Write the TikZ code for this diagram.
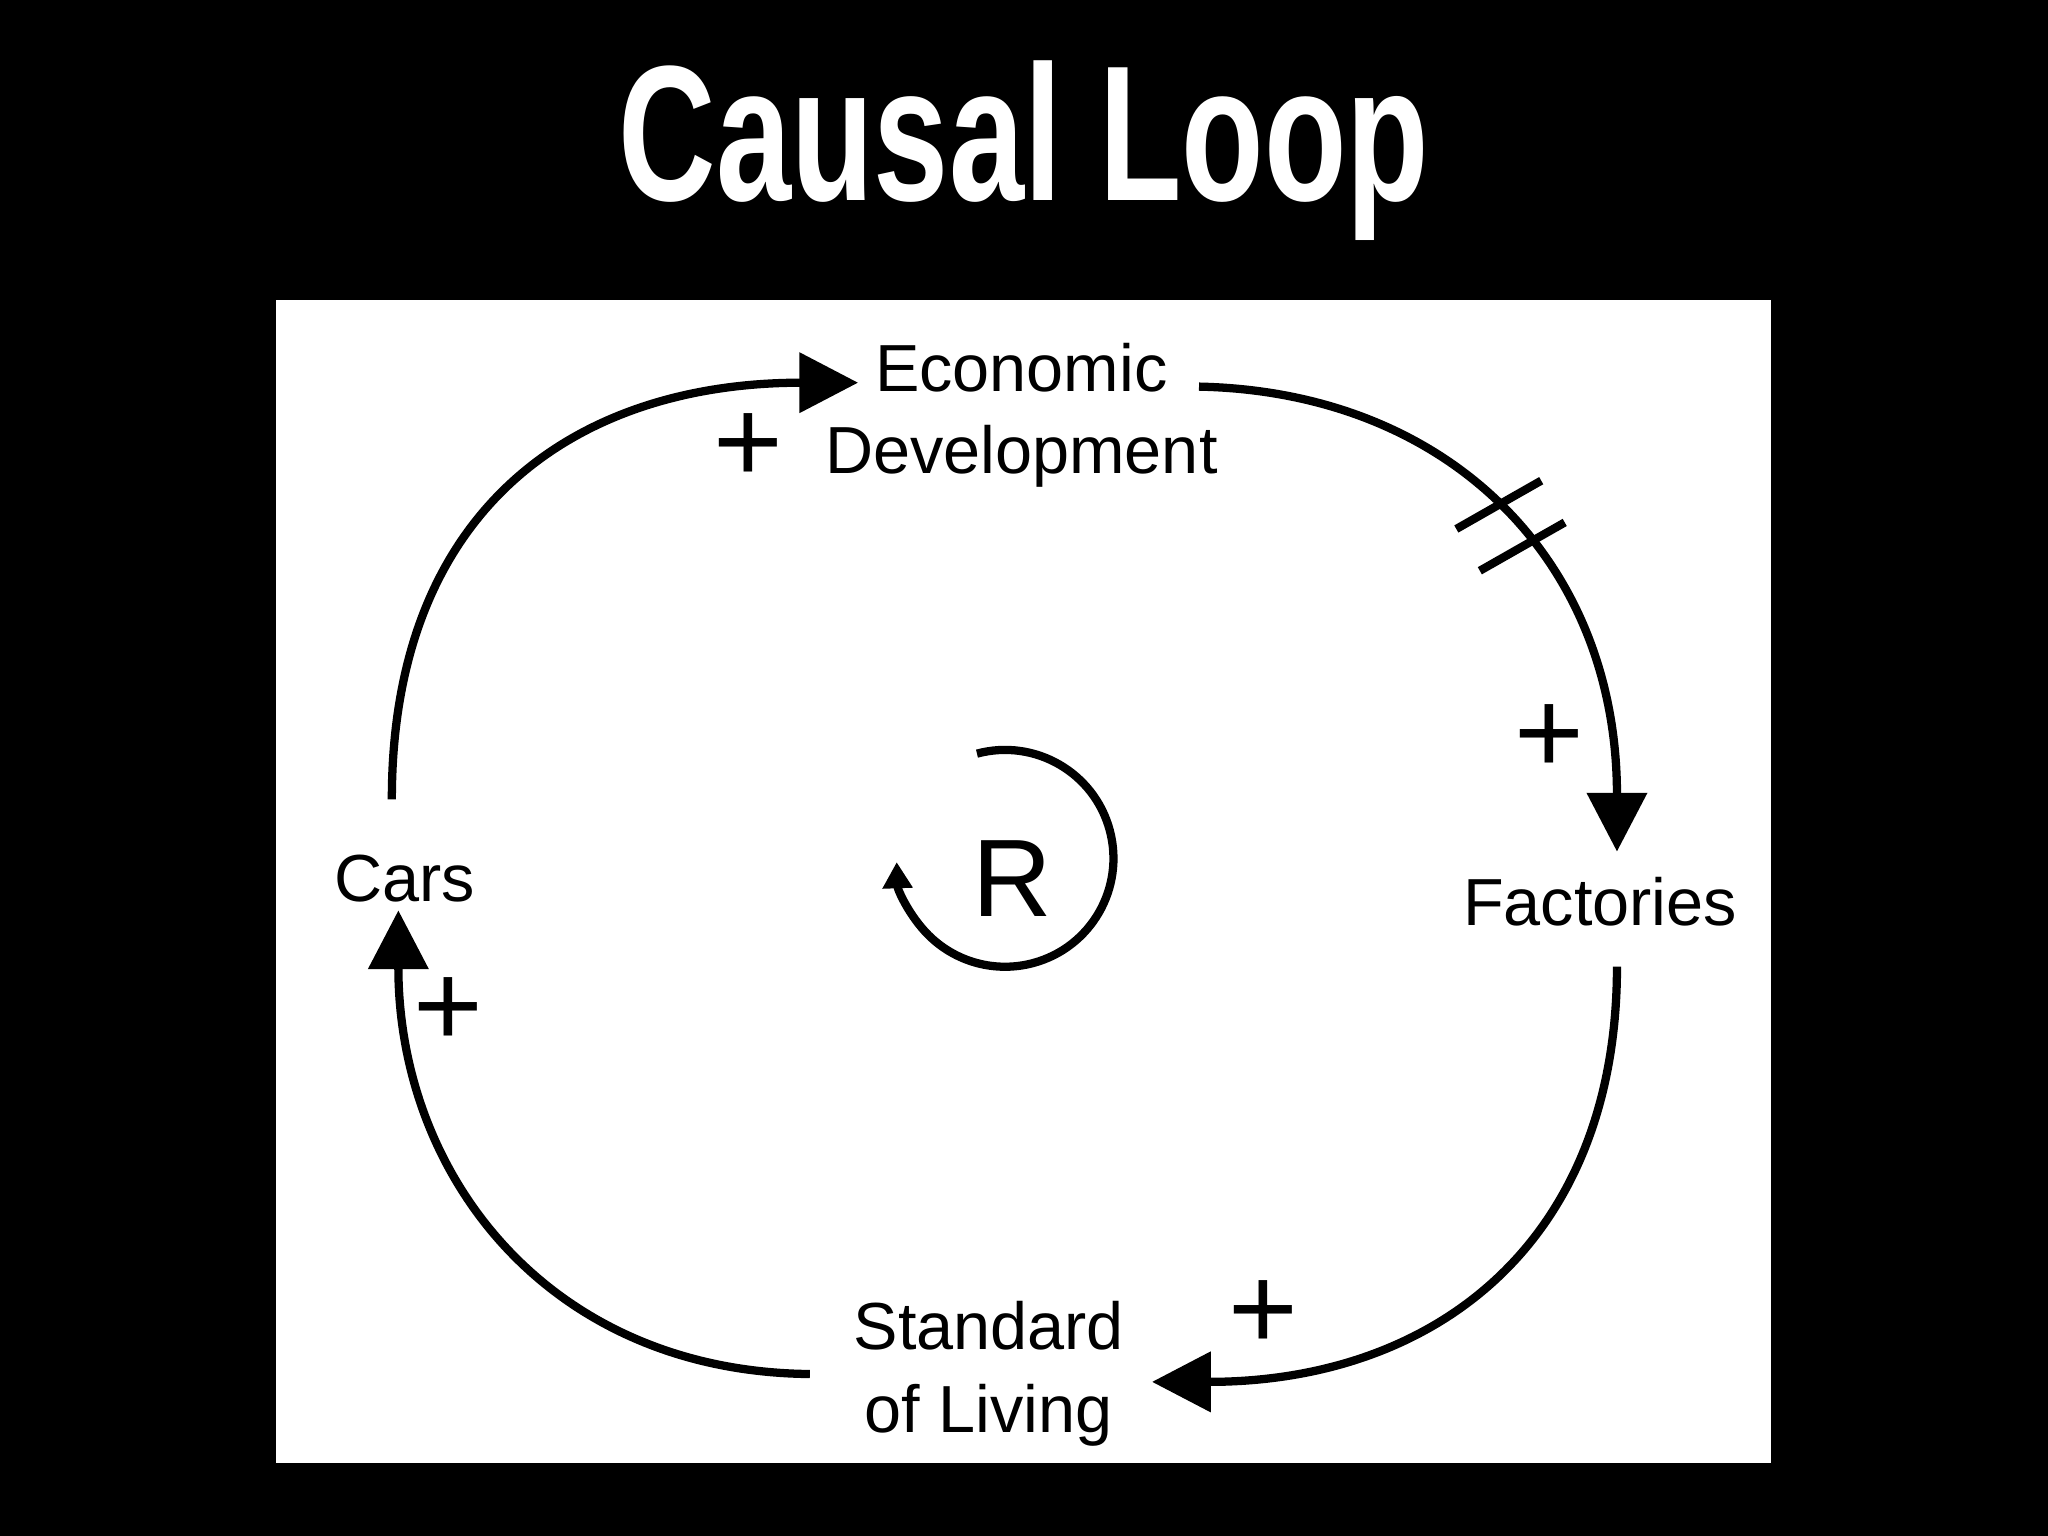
\documentclass[tikz,border=0pt]{standalone}
\usepackage{fontspec}
\setmainfont{Liberation Sans}
\usetikzlibrary{positioning, arrows.meta}
\tikzset{
  lbl/.style={align=center, font=\fontsize{14.5}{18}\selectfont, inner sep=1pt},
  link/.style={line width=1.8pt, -{Triangle[length=0.45cm,width=0.45cm]}},
  pol/.style={font=\fontsize{26}{26}\selectfont}
}
\begin{document}
\begin{tikzpicture}[x=0.01cm, y=-0.01cm]
            \fill[black] (0,0) rectangle (1568,1176);
            \fill[white] (211,230) rectangle (1356,1120);
            \node[white, font=\fontsize{42}{42}\bfseries\selectfont, xscale=0.7] (title) at (784,115) {Causal Loop};

            \node[lbl] (econ) at (782,318) {Economic\\Development};
            \node[lbl] (fact) at (1225,690) {Factories};
            \node[lbl] (cars) at (310,673) {Cars};
            \node[lbl] (std) at (757,1052) {Standard\\of Living};
            \node[font=\fontsize{24}{24}\selectfont] (r) at (775,673) {R};

            \coordinate (c1) at (300,612);
            \coordinate (e1) at (657,293);
            \coordinate (e2) at (918,296);
            \coordinate (f1) at (1238,652);
            \coordinate (f2) at (1238,740);
            \coordinate (s1) at (882,1058);
            \coordinate (s2) at (620,1052);
            \coordinate (c2) at (305,697);

            \draw[link] (c1) .. controls (300,390) and (440,293) .. (e1);
            \draw[link] (e2) .. controls (1110,300) and (1238,430) .. (f1);
            \draw[link] (f2) .. controls (1238,950) and (1100,1058) .. (s1);
            \draw[link] (s2) .. controls (420,1050) and (305,900) .. (c2);

            % delay mark
            \draw[line width=1.8pt] (1115,405) -- (1180,368);
            \draw[line width=1.8pt] (1133,437) -- (1198,400);

            \node[pol] (p1) at (573,343) {+};
            \node[pol] (p2) at (1186,566) {+};
            \node[pol] (p3) at (967,1007) {+};
            \node[pol] (p4) at (343,775) {+};

            \draw[line width=1.8pt, -{Triangle[length=0.2cm,width=0.22cm]}] (748,577) arc[start angle=-105, end angle=178, radius=83];
\end{tikzpicture}
\end{document}
